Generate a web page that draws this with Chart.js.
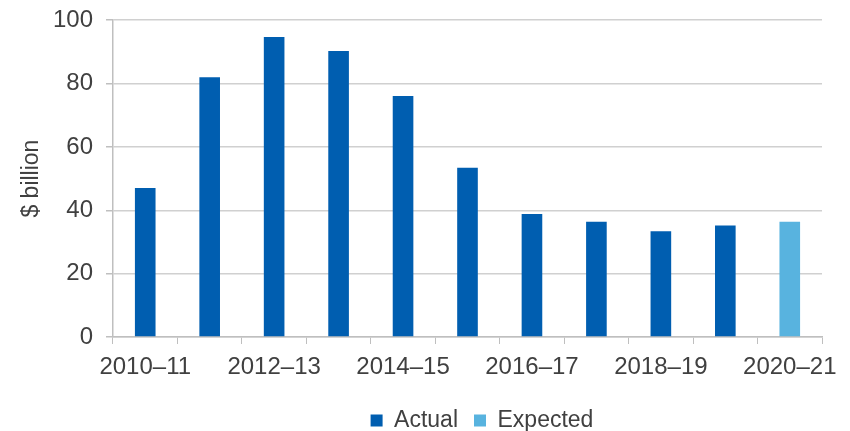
<!DOCTYPE html>
<html>
<head>
<meta charset="utf-8">
<script src="https://cdn.jsdelivr.net/npm/chart.js@4"></script>
<style>
  html, body { margin: 0; padding: 0; background: #ffffff; }
  #wrap { width: 850px; height: 431px; }
</style>
</head>
<body>
<div id="wrap"><canvas id="c" width="850" height="431"></canvas></div>
<script>
const categories = ["2010–11","2011–12","2012–13","2013–14","2014–15","2015–16","2016–17","2017–18","2018–19","2019–20","2020–21"];
const actualValues = [47, 82, 94.7, 90.3, 76.1, 53.4, 38.8, 36.4, 33.4, 35.2, null];
const expectedValues = [null, null, null, null, null, null, null, null, null, null, 36.4];
const yTicks = [0, 20, 40, 60, 80, 100];
const seriesNames = ["Actual", "Expected"];
const yTitle = "$ billion";

const textColor = "#404040";
const fontFamily = "'Liberation Sans', Arial, sans-serif";

const legendFix = {
  id: "legendFix",
  afterInit(chart) {
    const lg = chart.legend;
    if (!lg) return;
    const orig = lg.fit;
    lg.fit = function () { orig.call(this); this.height = 44; };
  },
  afterLayout(chart) {
    const lg = chart.legend;
    if (!lg) return;
    lg.left += 71;
    lg.right += 71;
    lg.top += 6;
    lg.bottom += 6;
  }
};

new Chart(document.getElementById("c"), {
  type: "bar",
  plugins: [legendFix],
  data: {
    labels: categories,
    datasets: [
      { label: seriesNames[0], data: actualValues, backgroundColor: "#005EB0", borderWidth: 0 },
      { label: seriesNames[1], data: expectedValues, backgroundColor: "#58B3DF", borderWidth: 0 }
    ]
  },
  options: {
    responsive: false,
    animation: false,
    devicePixelRatio: 1,
    layout: { padding: { left: 0, right: 28, top: 20, bottom: 0 } },
    datasets: { bar: { categoryPercentage: 1, barPercentage: 0.32 } },
    plugins: {
      tooltip: { enabled: false },
      legend: {
        position: "bottom",
        labels: {
          boxWidth: 12, boxHeight: 12, padding: 16,
          color: textColor,
          font: { family: fontFamily, size: 23 }
        }
      }
    },
    scales: {
      x: {
        stacked: true,
        grid: { offset: true, drawOnChartArea: false, drawTicks: true, tickLength: 7, tickColor: "#bfbfbf" },
        border: { color: "#bfbfbf", width: 1.5 },
        ticks: {
          autoSkip: false, maxRotation: 0, padding: 9,
          color: textColor,
          font: { family: fontFamily, size: 24 },
          callback: function (v, i) { return i % 2 === 0 ? categories[i] : ""; }
        },
        afterFit: function (s) { s.height = 50; }
      },
      y: {
        stacked: true,
        min: 0, max: 100,
        afterBuildTicks: function (s) { s.ticks = yTicks.map(v => ({ value: v })); },
        grid: { color: "#d0d0d0", lineWidth: 1.5, drawTicks: true, tickLength: 7, tickColor: "#bfbfbf" },
        border: { color: "#bfbfbf", width: 1.5 },
        ticks: {
          padding: 13,
          color: textColor,
          font: { family: fontFamily, size: 24, lineHeight: 0.6 }
        },
        title: {
          display: true, text: yTitle, color: textColor,
          font: { family: fontFamily, size: 23 },
          padding: { top: 18, bottom: 0 }
        },
        afterFit: function (s) { s.width = 113; }
      }
    }
  }
});
</script>
</body>
</html>
